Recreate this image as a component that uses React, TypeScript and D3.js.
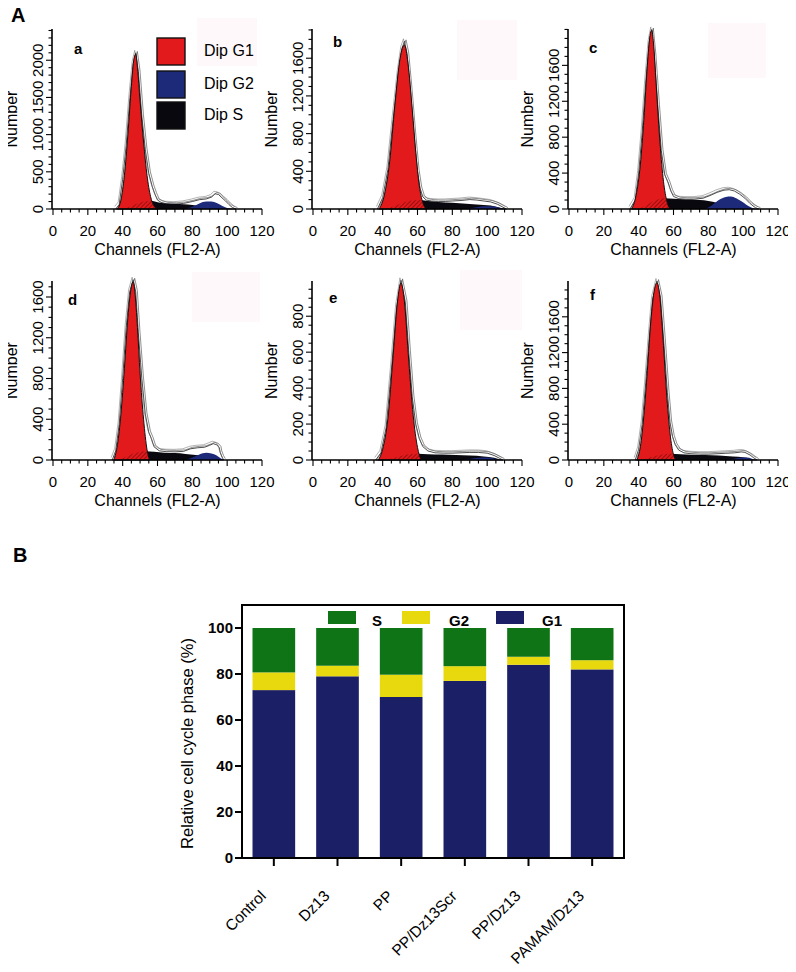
// @ts-nocheck
import { useRef, useEffect } from "react";
import * as d3 from "d3";

// ---- Panel A: DNA histograms, points are [channel, count] ----
const aOutline = [[36,0],[38,60],[40,400],[42,850],[44,1450],[46,1950],[47.5,2100],[49,1850],[51,1250],[53,800],[55,480],[57,300],[58.5,200],[60,120],[62,90],[65,70],[70,65],[75,75],[80,100],[84,125],[88,135],[91,160],[93,205],[95,195],[97,150],[99,110],[101,60],[103,20],[105,0]];
const aG1 = [[37,0],[39,120],[41,450],[43,1000],[45,1650],[46.5,2020],[47.5,2080],[48.5,1900],[50,1450],[52,900],[54,450],[56,170],[58,40],[60,0]];
const aS = [[40,0],[44,30],[48,70],[52,100],[56,110],[60,90],[65,75],[70,70],[75,65],[80,55],[85,40],[90,30],[95,20],[100,8],[103,0]];
const aG2 = [[76,0],[80,30],[84,75],[88,100],[91,100],[94,80],[97,45],[100,15],[103,0]];

const bOutline = [[37,0],[40,120],[43,420],[46,950],[49,1450],[51,1700],[52.5,1780],[54,1650],[56,1250],[58,800],[60,400],[61.5,220],[63,130],[65,95],[68,85],[72,80],[76,80],[80,85],[85,90],[90,100],[94,95],[98,85],[102,75],[106,50],[109,20],[111,0]];
const bG1 = [[38,0],[41,150],[44,500],[47,1100],[50,1600],[52.5,1740],[54.5,1550],[57,1050],[59,600],[61,250],[63,70],[65,0]];
const bS = [[42,0],[48,40],[54,80],[60,95],[66,85],[72,75],[80,65],[88,55],[96,45],[104,30],[110,0]];
const bG2 = [[88,0],[93,15],[98,30],[103,28],[107,12],[110,0]];

const cOutline = [[35,0],[38,100],[40,400],[42,850],[44,1400],[46,1850],[47.5,2000],[49,1700],[51,1150],[53,650],[55,380],[57,290],[58.5,200],[60,140],[63,115],[67,110],[72,110],[77,120],[81,150],[85,185],[89,210],[92,215],[95,200],[98,165],[101,120],[104,60],[107,15],[109,0]];
const cG1 = [[36,0],[38.5,150],[41,500],[43,1000],[45,1600],[46.5,1930],[47.5,1990],[48.5,1850],[50,1400],[52,800],[54,350],[56,100],[58,0]];
const cS = [[40,0],[45,50],[50,100],[55,120],[60,115],[65,110],[70,105],[75,100],[80,90],[85,70],[90,50],[95,35],[100,20],[105,5],[107,0]];
const cG2 = [[78,0],[82,40],[86,100],[90,135],[93,140],[96,120],[99,85],[102,45],[105,15],[107,0]];

const dOutline = [[34,0],[36,90],[38,350],[40,800],[42,1300],[44,1650],[46,1770],[47.5,1650],[49,1250],[51,800],[53,450],[55,270],[56.5,210],[58,130],[61,90],[65,82],[70,80],[75,85],[79,110],[83,120],[87,125],[90,145],[92,160],[94,150],[95.5,120],[96,75],[97,30],[98,0]];
const dG1 = [[35,0],[37,150],[39,450],[41,900],[43,1400],[45,1700],[46,1750],[47,1650],[48.5,1300],[50,850],[52,400],[54,100],[55.5,0]];
const dS = [[38,0],[43,40],[48,70],[53,85],[58,80],[64,72],[70,68],[76,60],[82,50],[88,40],[93,25],[97,0]];
const dG2 = [[76,0],[80,25],[84,55],[88,70],[91,65],[94,45],[96,20],[98,0]];

const eOutline = [[36,0],[39,40],[42,180],[45,500],[48,850],[50.5,1000],[53,880],[55,600],[57,350],[59,200],[61,120],[63,75],[66,50],[70,40],[75,38],[80,38],[85,40],[90,42],[95,42],[100,38],[104,25],[107,10],[109,0]];
const eG1 = [[37.5,0],[40,60],[43,230],[46,580],[48.5,880],[50.5,985],[52.5,880],[55,550],[57.5,250],[60,70],[62,0]];
const eS = [[42,0],[48,15],[54,30],[60,35],[66,32],[74,30],[82,28],[90,25],[98,20],[104,12],[108,0]];
const eG2 = [[86,0],[90,6],[95,12],[100,14],[104,8],[107,0]];

const fOutline = [[38,0],[40,120],[42,400],[44,850],[46,1350],[48,1800],[50.5,2000],[52.5,1820],[54.5,1300],[56.5,750],[58,420],[59.5,260],[61,170],[63,110],[66,80],[70,70],[75,65],[80,65],[85,70],[90,75],[95,80],[99,90],[101,85],[104,55],[106,25],[108,0]];
const fG1 = [[39,0],[41,150],[43,500],[45,1000],[47,1550],[49,1900],[50.5,1980],[52,1850],[54,1350],[56,750],[58,300],[60,60],[61.5,0]];
const fS = [[42,0],[47,30],[52,55],[58,70],[64,65],[70,60],[78,55],[86,50],[94,40],[100,30],[104,15],[107,0]];
const fG2 = [[90,0],[94,12],[98,25],[102,28],[105,15],[107,0]];

const panelLetters = ["a", "b", "c", "d", "e", "f"];
const yMaxes = [2420, 1910, 2005, 1757, 996, 2000];
const yTickSets = [
  [0, 500, 1000, 1500, 2000],
  [0, 400, 800, 1200, 1600],
  [0, 400, 800, 1200, 1600],
  [0, 400, 800, 1200, 1600],
  [0, 200, 400, 600, 800],
  [0, 400, 800, 1200, 1600],
];
const yMinorSteps = [100, 100, 100, 100, 50, 100];
const xTicks = [0, 20, 40, 60, 80, 100, 120];
const legendA = ["Dip G1", "Dip G2", "Dip S"];

// ---- Panel B: stacked cell cycle phases (%) ----
const groups = ["Control", "Dz13", "PP", "PP/Dz13Scr", "PP/Dz13", "PAMAM/Dz13"];
const g1Values = [73, 79, 70, 77, 84, 82];
const g2Values = [7.7, 4.6, 9.7, 6.4, 3.5, 4];
const sValues = [19.3, 16.4, 20.3, 16.6, 12.5, 14];
const phaseTicks = [0, 20, 40, 60, 80, 100];
const phaseLegend = ["S", "G2", "G1"];

const FONT = "'Liberation Sans', Arial, Helvetica, sans-serif";
const RED = "#e21a1c";
const NAVY = "#1d2a7a";
const SBLACK = "#08080e";

export default function App() {
  const ref = useRef(null);

  useEffect(() => {
    const svg = d3.select(ref.current);
    svg.selectAll("*").remove();

    const defs = svg.append("defs");
    const pat = defs
      .append("pattern")
      .attr("id", "hatch")
      .attr("width", 3)
      .attr("height", 3)
      .attr("patternUnits", "userSpaceOnUse")
      .attr("patternTransform", "rotate(45)");
    pat.append("line").attr("x1", 0).attr("y1", 0).attr("x2", 0).attr("y2", 3)
      .attr("stroke", "#5a0508").attr("stroke-width", 1.1);

    // ---------- Panel A ----------
    svg.append("text").attr("x", 11).attr("y", 22).attr("font-family", FONT)
      .attr("font-size", 20).attr("font-weight", "bold").text("A");

    const panels = [
      { outline: aOutline, g1: aG1, s: aS, g2: aG2 },
      { outline: bOutline, g1: bG1, s: bS, g2: bG2 },
      { outline: cOutline, g1: cG1, s: cS, g2: cG2 },
      { outline: dOutline, g1: dG1, s: dS, g2: dG2 },
      { outline: eOutline, g1: eG1, s: eS, g2: eG2 },
      { outline: fOutline, g1: fG1, s: fS, g2: fG2 },
    ];
    const originsX = [52, 312, 568, 52, 312, 568];
    const rows = [{ top: 29, bottom: 209 }, { top: 281, bottom: 460 }];
    const letterPos = [[74, 54], [333, 47], [589, 53], [68, 305], [329, 303], [590, 300]];
    const pinkBoxes = [[197, 18, 60, 48], [457, 20, 60, 60], [708, 23, 58, 55], [192, 272, 68, 50], [460, 270, 62, 60], null];

    panels.forEach((p, i) => {
      const ox = originsX[i];
      const { top, bottom } = rows[Math.floor(i / 3)];
      const x = d3.scaleLinear().domain([0, 120]).range([ox + 1, ox + 210]);
      const y = d3.scaleLinear().domain([0, yMaxes[i]]).range([bottom, top]);
      const g = svg.append("g");

      if (pinkBoxes[i]) {
        const [bx, by, bw, bh] = pinkBoxes[i];
        g.append("rect").attr("x", bx).attr("y", by).attr("width", bw).attr("height", bh).attr("fill", "#fef8fa");
      }

      const smooth = d3.area().x((d) => x(d[0])).y0(y(0)).y1((d) => y(d[1])).curve(d3.curveMonotoneX);
      const rough = d3.area().x((d) => x(d[0])).y0(y(0)).y1((d) => y(d[1])).curve(d3.curveLinear);
      const roughLine = d3.line().x((d) => x(d[0])).y((d) => y(d[1])).curve(d3.curveLinear);

      // raw histogram traces
      g.append("path").datum(p.outline).attr("d", rough).attr("fill", "#fff")
        .attr("stroke", "#222").attr("stroke-width", 0.8);
      g.append("path").datum(p.outline).attr("d", roughLine).attr("fill", "none")
        .attr("stroke", "#444").attr("stroke-width", 0.6).attr("transform", "translate(1.6,-1.4)");
      g.append("path").datum(p.outline).attr("d", roughLine).attr("fill", "none")
        .attr("stroke", "#666").attr("stroke-width", 0.5).attr("transform", "translate(-1,-2.5)");

      // fitted components
      g.append("path").datum(p.s).attr("d", smooth).attr("fill", SBLACK);
      g.append("path").datum(p.g2).attr("d", smooth).attr("fill", NAVY);
      g.append("path").datum(p.g1).attr("d", smooth).attr("fill", RED)
        .attr("stroke", "#111").attr("stroke-width", 1);
      const clipId = `g1clip${i}`;
      defs.append("clipPath").attr("id", clipId).append("path").datum(p.g1).attr("d", smooth);
      g.append("path").datum(p.s).attr("d", smooth).attr("fill", "url(#hatch)")
        .attr("clip-path", `url(#${clipId})`);

      // x axis
      g.append("line").attr("x1", ox).attr("x2", x(120)).attr("y1", bottom).attr("y2", bottom)
        .attr("stroke", "#000").attr("stroke-width", 1.6);
      d3.range(0, 121, 5).forEach((t) => {
        const major = t % 20 === 0;
        g.append("line").attr("x1", x(t)).attr("x2", x(t)).attr("y1", bottom)
          .attr("y2", bottom + (major ? 6 : 3.5)).attr("stroke", "#000").attr("stroke-width", 1.1);
      });
      xTicks.forEach((t) => {
        g.append("text").attr("x", x(t)).attr("y", bottom + 27).attr("text-anchor", "middle")
          .attr("font-family", FONT).attr("font-size", 15).text(t);
      });
      g.append("text").attr("x", x(60)).attr("y", bottom + 46).attr("text-anchor", "middle")
        .attr("font-family", FONT).attr("font-size", 16).text("Channels (FL2-A)");

      // y axis
      g.append("line").attr("x1", ox).attr("x2", ox).attr("y1", top).attr("y2", bottom)
        .attr("stroke", "#000").attr("stroke-width", 1.6);
      d3.range(0, yMaxes[i], yMinorSteps[i]).forEach((t) => {
        const major = yTickSets[i].includes(t);
        g.append("line").attr("x1", ox - (major ? 6 : 3.5)).attr("x2", ox).attr("y1", y(t)).attr("y2", y(t))
          .attr("stroke", "#000").attr("stroke-width", 1.1);
      });
      yTickSets[i].forEach((t) => {
        g.append("text").attr("transform", `translate(${ox - 9.5},${y(t)}) rotate(-90)`)
          .attr("text-anchor", "middle").attr("font-family", FONT).attr("font-size", 15).text(t);
      });
      g.append("text").attr("transform", `translate(${ox - 35},${(top + bottom) / 2}) rotate(-90)`)
        .attr("text-anchor", "middle").attr("font-family", FONT).attr("font-size", 16).text("Number");

      g.append("text").attr("x", letterPos[i][0]).attr("y", letterPos[i][1]).attr("font-family", FONT)
        .attr("font-size", 15).attr("font-weight", "bold").text(panelLetters[i]);
    });

    // legend of panel a
    const legColors = [RED, NAVY, SBLACK];
    const legY = [38, 71, 102];
    const legBase = [56, 89, 120];
    legendA.forEach((name, k) => {
      svg.append("rect").attr("x", 157).attr("y", legY[k]).attr("width", 28).attr("height", 27)
        .attr("fill", legColors[k]).attr("stroke", "#111").attr("stroke-width", 1.4);
      svg.append("text").attr("x", 204).attr("y", legBase[k]).attr("font-family", FONT)
        .attr("font-size", 16).text(name);
    });

    // ---------- Panel B ----------
    svg.append("text").attr("x", 13).attr("y", 562).attr("font-family", FONT)
      .attr("font-size", 20).attr("font-weight", "bold").text("B");

    const left = 242, right = 624, top = 605, bottom = 858;
    const xb = d3.scaleBand().domain(groups).range([left, right]).paddingInner(0.33).paddingOuter(0.165);
    const yb = d3.scaleLinear().domain([0, 110]).range([bottom, top]);
    const rowsB = groups.map((name, k) => ({ name, G1: g1Values[k], G2: g2Values[k], S: sValues[k] }));
    const stacked = d3.stack().keys(["G1", "G2", "S"])(rowsB);
    const phaseColors = { G1: "#1b1f66", G2: "#e8d90f", S: "#0e7416" };

    stacked.forEach((layer) => {
      svg.append("g").attr("fill", phaseColors[layer.key])
        .selectAll("rect").data(layer).join("rect")
        .attr("x", (d) => xb(d.data.name)).attr("width", xb.bandwidth())
        .attr("y", (d) => yb(d[1])).attr("height", (d) => yb(d[0]) - yb(d[1]));
    });

    svg.append("rect").attr("x", left).attr("y", top).attr("width", right - left).attr("height", bottom - top)
      .attr("fill", "none").attr("stroke", "#000").attr("stroke-width", 2);

    phaseTicks.forEach((t) => {
      svg.append("line").attr("x1", left - 7).attr("x2", left).attr("y1", yb(t)).attr("y2", yb(t))
        .attr("stroke", "#000").attr("stroke-width", 2);
      svg.append("text").attr("x", left - 9).attr("y", yb(t)).attr("dy", "0.36em").attr("text-anchor", "end")
        .attr("font-family", FONT).attr("font-size", 15).attr("font-weight", "bold").text(t);
    });
    svg.append("text").attr("transform", `translate(193,${(top + 20 + bottom) / 2 + 2}) rotate(-90)`)
      .attr("text-anchor", "middle").attr("font-family", FONT).attr("font-size", 16.5)
      .text("Relative cell cycle phase (%)");

    groups.forEach((name) => {
      const cx = xb(name) + xb.bandwidth() / 2;
      svg.append("line").attr("x1", cx).attr("x2", cx).attr("y1", bottom).attr("y2", bottom + 8)
        .attr("stroke", "#000").attr("stroke-width", 2);
      svg.append("text").attr("transform", `translate(${cx - 7},${bottom + 39}) rotate(-45)`)
        .attr("text-anchor", "end").attr("font-family", FONT).attr("font-size", 15.5).text(name);
    });

    // legend of panel B
    const legX = [328, 402, 496];
    const legTextX = [372, 449, 542];
    phaseLegend.forEach((k, j) => {
      svg.append("rect").attr("x", legX[j]).attr("y", 611).attr("width", 28).attr("height", 13)
        .attr("fill", phaseColors[k]);
      svg.append("text").attr("x", legTextX[j]).attr("y", 626).attr("font-family", FONT)
        .attr("font-size", 15).attr("font-weight", "bold").text(k);
    });
  }, []);

  return <svg ref={ref} width={796} height={972} style={{ display: "block", margin: "-8px" }} />;
}
